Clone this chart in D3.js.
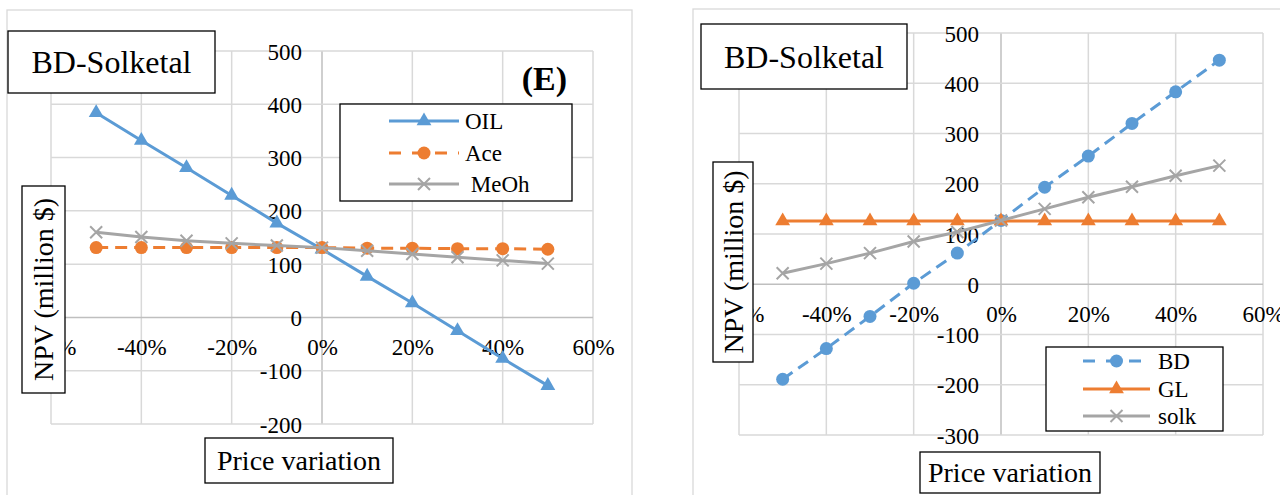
<!DOCTYPE html>
<html>
<head>
<meta charset="utf-8">
<script src="https://cdn.jsdelivr.net/npm/d3@7"></script>
<style>
  body { margin: 0; background: #fff; }
  svg { display: block; }
</style>
</head>
<body>
<svg id="chart" width="1280" height="495"></svg>
<script>
// price variation steps (fraction)
var priceVar = [-0.5, -0.4, -0.3, -0.2, -0.1, 0, 0.1, 0.2, 0.3, 0.4, 0.5];
var xTicks = [-0.6, -0.4, -0.2, 0, 0.2, 0.4, 0.6];

// panel E (left): feed prices
var oilNPV  = [384, 332, 281, 229, 177, 128, 77, 27, -25, -77, -128];
var aceNPV  = [131, 131, 131, 131, 131, 131, 130, 130, 129, 129, 128];
var meohNPV = [160, 151, 144, 139, 135, 131, 125, 119, 113, 107, 101];
var yTicksLeft = [-200, -100, 0, 100, 200, 300, 400, 500];

// right panel: product prices
var bdNPV   = [-189, -128, -64, 2, 62, 127, 193, 255, 320, 383, 446];
var glNPV   = [126, 126, 126, 126, 126, 126, 126, 126, 126, 126, 126];
var solkNPV = [22, 41, 62, 85, 104, 127, 150, 173, 194, 216, 236];
var yTicksRight = [-300, -200, -100, 0, 100, 200, 300, 400, 500];

var BLUE = "#5b9bd5", ORANGE = "#ed7d31", GRAY = "#a5a5a5";
var SERIF = "'Liberation Serif'";

var svg = d3.select("#chart");
svg.append("rect").attr("width", 1280).attr("height", 495).attr("fill", "#fff");

function txt(sel, size){
  return sel.style("font-family", SERIF).style("font-size", size+"px").attr("fill", "#000");
}

function marker(g, type, color){
  if(type=="tri"){
    g.append("path").attr("d", d3.symbol().type(d3.symbolTriangle).size(95)())
      .attr("fill", color);
  } else if(type=="dot"){
    g.append("circle").attr("r", 6.5).attr("fill", color);
  } else {
    var s = 6;
    g.append("path").attr("d", "M"+(-s)+","+(-s)+"L"+s+","+s+"M"+(-s)+","+s+"L"+s+","+(-s))
      .attr("stroke", color).attr("stroke-width", 2).attr("fill", "none");
  }
}

function box(g, x, y, w, h, label, size, rotate){
  g.append("rect").attr("x", x).attr("y", y).attr("width", w).attr("height", h)
    .attr("fill", "#fff").attr("stroke", "#000").attr("stroke-width", 1.3);
  var t = txt(g.append("text"), size).attr("text-anchor", "middle").attr("dy", "0.35em").text(label);
  if(rotate) t.attr("transform", "translate("+(x+w/2)+","+(y+h/2)+") rotate(-90)");
  else t.attr("x", x+w/2).attr("y", y+h/2);
}

function drawPanel(p){
  var g = svg.append("g");
  var x = d3.scaleLinear().domain([-0.6, 0.6]).range(p.xr);
  var y = d3.scaleLinear().domain(p.yd).range(p.yr);

  // outer chart border
  g.append("rect").attr("x", p.frame[0]).attr("y", p.frame[1])
    .attr("width", p.frame[2]).attr("height", p.frame[3])
    .attr("fill", "none").attr("stroke", "#d9d9d9").attr("stroke-width", 1.3);

  // grid
  g.selectAll(".gx").data(xTicks).enter().append("line")
    .attr("x1", function(d){ return x(d); }).attr("x2", function(d){ return x(d); })
    .attr("y1", p.yr[0]).attr("y2", p.yr[1])
    .attr("stroke", function(d){ return d==0 ? "#bfbfbf" : "#d9d9d9"; }).attr("stroke-width", 1.5);
  g.selectAll(".gy").data(p.yTicks).enter().append("line")
    .attr("y1", function(d){ return y(d); }).attr("y2", function(d){ return y(d); })
    .attr("x1", p.xr[0]).attr("x2", p.xr[1])
    .attr("stroke", function(d){ return d==0 ? "#bfbfbf" : "#d9d9d9"; }).attr("stroke-width", 1.5);

  // axes through zero
  var ax = g.append("g").attr("transform", "translate(0,"+y(0)+")")
    .call(d3.axisBottom(x).tickValues(xTicks).tickSize(0)
      .tickFormat(function(d){ return Math.round(d*100)+"%"; }));
  ax.attr("font-family", null).attr("font-size", null);
  ax.select(".domain").remove();
  txt(ax.selectAll("text"), 23).attr("y", p.xLabOff).attr("dy", "0.35em");

  var ay = g.append("g").attr("transform", "translate("+x(0)+",0)")
    .call(d3.axisLeft(y).tickValues(p.yTicks).tickSize(0).tickPadding(p.yLabOff)
      .tickFormat(function(d){ return String(d); }));
  ay.attr("font-family", null).attr("font-size", null);
  ay.select(".domain").remove();
  txt(ay.selectAll("text"), 23).attr("dy", "0.35em");

  // series
  p.series.forEach(function(s){
    var pts = priceVar.map(function(v, k){ return [x(v), y(s.vals[k])]; });
    g.append("path").attr("d", d3.line()(pts)).attr("fill", "none")
      .attr("stroke", s.color).attr("stroke-width", 3)
      .attr("stroke-dasharray", s.dash ? "12,7" : null);
    pts.forEach(function(pt){
      marker(g.append("g").attr("transform", "translate("+pt[0]+","+pt[1]+")"), s.mk, s.color);
    });
  });

  // text boxes
  box(g, p.title[0], p.title[1], p.title[2], p.title[3], "BD-Solketal", 32);
  box(g, p.ytitle[0], p.ytitle[1], p.ytitle[2], p.ytitle[3], "NPV (million $)", 28, true);
  box(g, p.xtitle[0], p.xtitle[1], p.xtitle[2], p.xtitle[3], "Price variation", 28);

  // legend
  var L = p.legend;
  g.append("rect").attr("x", L.x).attr("y", L.y).attr("width", L.w).attr("height", L.h)
    .attr("fill", "#fff").attr("stroke", "#000").attr("stroke-width", 1.3);
  p.series.forEach(function(s, k){
    var ly = L.rows[k];
    g.append("line").attr("x1", L.lx[0]).attr("x2", L.lx[1]).attr("y1", ly).attr("y2", ly)
      .attr("stroke", s.color).attr("stroke-width", 3)
      .attr("stroke-dasharray", s.dash ? "12,11" : null);
    marker(g.append("g").attr("transform", "translate("+((L.lx[0]+L.lx[1])/2)+","+ly+")"), s.mk, s.color);
    txt(g.append("text"), 23).attr("x", L.tx).attr("y", ly).attr("dy", "0.35em")
      .style("white-space", "pre").text(s.name);
  });
  return g;
}

var left = drawPanel({
  xr: [51, 593], yd: [-200, 500], yr: [424, 51], yTicks: yTicksLeft,
  frame: [7, 10, 625, 500], xLabOff: 30, yLabOff: 20,
  series: [
    {name: "OIL", vals: oilNPV, color: BLUE, mk: "tri"},
    {name: "Ace", vals: aceNPV, color: ORANGE, mk: "dot", dash: true},
    {name: " MeOh", vals: meohNPV, color: GRAY, mk: "x"}
  ],
  title: [8, 31, 207, 62], ytitle: [22, 186, 43, 207], xtitle: [205, 438, 188, 45],
  legend: {x: 340, y: 104, w: 232, h: 97, rows: [121, 153, 184], lx: [389, 459], tx: 465}
});
txt(left.append("text"), 34).attr("x", 567).attr("y", 78).attr("dy", "0.35em")
  .attr("text-anchor", "end").style("font-weight", "bold").text("(E)");

drawPanel({
  xr: [739, 1263], yd: [-300, 500], yr: [435, 33], yTicks: yTicksRight,
  frame: [693, 9, 640, 500], xLabOff: 30, yLabOff: 22,
  series: [
    {name: "BD", vals: bdNPV, color: BLUE, mk: "dot", dash: true},
    {name: "GL", vals: glNPV, color: ORANGE, mk: "tri"},
    {name: "solk", vals: solkNPV, color: GRAY, mk: "x"}
  ],
  title: [701, 24, 206, 65], ytitle: [713, 162, 40, 200], xtitle: [920, 452, 180, 41],
  legend: {x: 1046, y: 347, w: 177, h: 84, rows: [361, 389, 416], lx: [1083, 1150], tx: 1158}
});
</script>
</body>
</html>
